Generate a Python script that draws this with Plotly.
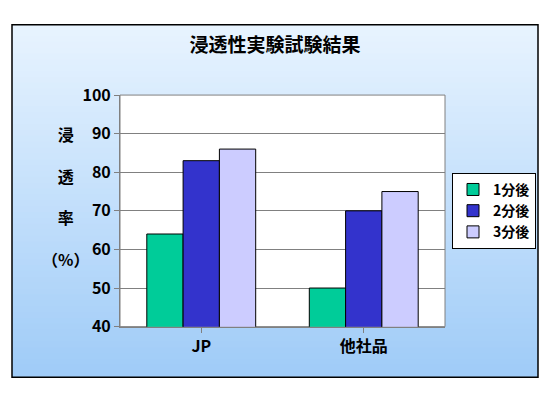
import plotly.graph_objects as go

categories = ["JP", "他社品"]
series_names = ["1分後", "2分後", "3分後"]
values_1 = [64, 50]
values_2 = [83, 70]
values_3 = [86, 75]
colors = ["#00CC99", "#3333CC", "#CCCCFF"]

W, H, OFF = 534, 384, 8
def px(x): return (x - OFF) / W
def py(y): return 1 - (y - OFF) / H

fig = go.Figure()
for name, vals, c in zip(series_names, [values_1, values_2, values_3], colors):
    fig.add_trace(go.Bar(x=categories, y=vals, name="<b>" + name + "</b>",
                         marker=dict(color=c, line=dict(color="black", width=1))))

shapes = []
n = 60
x0, x1, y0, y1 = px(12), px(538), py(388), py(12)
top = (232, 244, 255); bot = (160, 204, 248)
for i in range(n):
    t = i / (n - 1)
    col = tuple(int(top[k] + (bot[k] - top[k]) * t) for k in range(3))
    ya = y1 - (y1 - y0) * i / n; yb = y1 - (y1 - y0) * (i + 1) / n
    shapes.append(dict(type="rect", xref="paper", yref="paper", x0=x0, x1=x1, y0=yb, y1=ya + 0.002,
                       fillcolor="rgb(%d,%d,%d)" % col, line=dict(width=0), layer="below"))
shapes.append(dict(type="rect", xref="paper", yref="paper", x0=x0, x1=x1, y0=y0, y1=y1,
                   line=dict(color="black", width=1.5), layer="above"))
shapes.append(dict(type="rect", xref="x domain", yref="y domain", x0=0, x1=1, y0=0, y1=1,
                   fillcolor="white", line=dict(color="gray", width=1), layer="below"))

fig.update_layout(
    width=W, height=H, margin=dict(l=0, r=0, t=0, b=0),
    paper_bgcolor="white", plot_bgcolor="rgba(0,0,0,0)",
    font=dict(family="Noto Sans CJK JP", color="black"),
    shapes=shapes, barmode="group", bargap=0.33, bargroupgap=0,
    title=dict(text="<b>浸透性実験試験結果</b>", x=0.5, xanchor="center", y=py(45), yanchor="middle",
               font=dict(size=19)),
    xaxis=dict(domain=[px(120), px(445)], tickfont=dict(size=16), showline=True, linecolor="gray",
               ticks="outside", ticklen=5, tickcolor="gray",
               ticktext=["<b>JP</b>", "<b>他社品</b>"], tickvals=categories),
    yaxis=dict(domain=[py(334), py(87)], range=[40, 100], dtick=10, gridcolor="#808080", showline=True,
               linecolor="gray", tickfont=dict(size=16), tickprefix="<b>", ticksuffix="</b>",
               ticks="outside", ticklen=5, tickcolor="gray"),
    legend=dict(x=px(452), y=py(170), xanchor="left", yanchor="top", bgcolor="white", bordercolor="black",
                borderwidth=1, font=dict(size=14), tracegroupgap=0, itemwidth=30),
    annotations=[dict(text="<b>浸<br><br>透<br><br>率<br><br>（%）</b>", x=px(40), y=py(195),
                      xref="paper", yref="paper", showarrow=False, font=dict(size=16), align="center")],
)
fig.write_html("out.html")
